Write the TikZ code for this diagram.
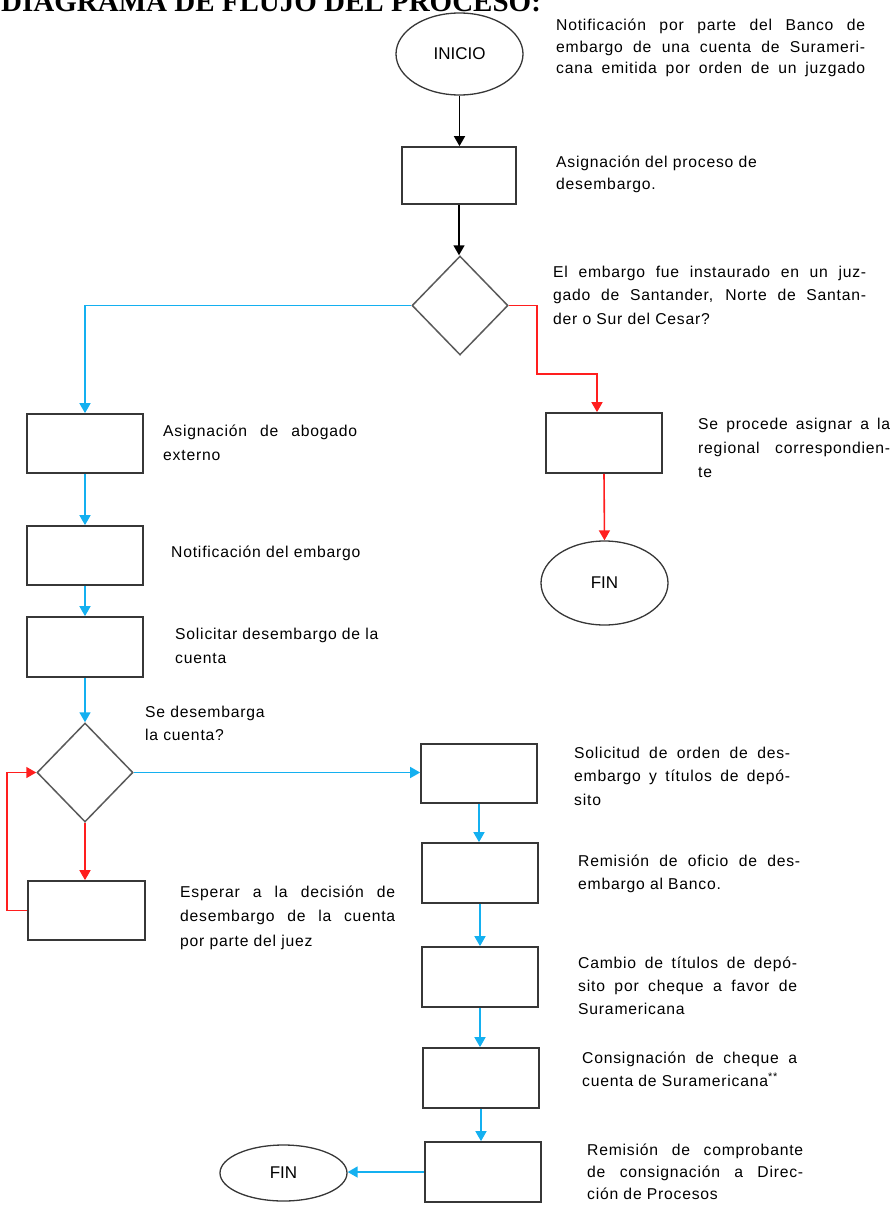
\documentclass[tikz,border=0pt]{standalone}
\usepackage{fontspec}
\setmainfont{Liberation Serif}
\newfontfamily\lbl[LetterSpace=5]{Liberation Sans}
\newfontfamily\shapefont{Liberation Sans}
\usetikzlibrary{shapes.geometric,arrows.meta}
\definecolor{flowblue}{RGB}{20,176,240}
\definecolor{flowred}{RGB}{255,30,30}
\definecolor{edgegray}{RGB}{55,55,55}
\definecolor{diagray}{RGB}{90,90,90}
% one justified line of a description
\newcommand\jl[1]{\makebox[\linewidth][s]{#1}}
% description block: width, line spacing, lines
\newcommand\txtblock[3]{\parbox[t]{#1}{\fontsize{15.7}{#2}\selectfont #3}}

\begin{document}
\begin{tikzpicture}[x=1pt,y=-1pt,
  box/.style={draw=edgegray, line width=1.7pt, rectangle, minimum width=116pt, minimum height=59pt, inner sep=0pt},
  decision/.style={draw=diagray, line width=1.5pt, diamond, minimum width=96pt, minimum height=99pt, inner sep=0pt},
  terminal/.style={draw=edgegray, line width=1.3pt, ellipse, minimum width=127pt, inner sep=0pt, font=\shapefont\fontsize{17}{20}\selectfont},
  note/.style={anchor=base west, inner sep=0pt, font=\lbl},
  arr/.style={line width=1.6pt, -{Triangle[length=10pt,width=11pt]}},
  blackflow/.style={arr, draw=black},
  blueflow/.style={arr, draw=flowblue},
  redflow/.style={arr, draw=flowred}]

\useasboundingbox (0,0) rectangle (893,1207);
\clip (0,0) rectangle (893,1207);

% heading
\node[anchor=base west, inner sep=0pt, font=\fontsize{29}{32}\selectfont\bfseries] (title) at (1,12) {DIAGRAMA DE FLUJO DEL PROCESO:};

% main column
\node[terminal, minimum height=82pt] (inicio) at (459.5,54) {INICIO};
\node[box, minimum width=114pt, minimum height=57pt] (b1) at (459,175.5) {};
\node[decision] (d1) at (460,305.5) {};

% left branch
\node[box] (a1) at (85,443.5) {};
\node[box] (a2) at (85,555.5) {};
\node[box, minimum height=60pt] (a3) at (85,647) {};
\node[decision] (d2) at (85,772.5) {};
\node[box, minimum width=117pt] (w1) at (86.5,910.5) {};

% right branch of the first decision
\node[box, minimum height=60pt] (r1) at (604,443) {};
\node[terminal, minimum height=84pt] (fin1) at (604.5,583) {FIN};

% column after the account is released
\node[box] (s1) at (479,773.5) {};
\node[box, minimum height=60pt] (s2) at (480,873) {};
\node[box, minimum height=60pt] (s3) at (480,977) {};
\node[box, minimum height=60pt] (s4) at (481,1078) {};
\node[box, minimum height=60pt] (s5) at (483,1172) {};
\node[terminal, minimum height=56pt] (fin2) at (283.5,1173) {FIN};

% connectors
\draw[blackflow] (inicio.south) -- (inicio.south |- b1.north);
\draw[blackflow] (b1.south) -- (b1.south |- d1.north);
\draw[blueflow] (d1.west) -| (a1.north);
\coordinate (rk) at (537,374);
\draw[redflow] (d1.east) -| (rk) -| ([xshift=-7pt]r1.north);
\draw[redflow] (r1.south) -- (fin1.north);
\draw[blueflow] (a1.south) -- (a2.north);
\draw[blueflow] (a2.south) -- (a3.north);
\draw[blueflow] (a3.south) -- (d2.north);
\draw[redflow] (d2.south) -- (d2.south |- w1.north);
\draw[redflow] (w1.west) -- ++(-20,0) |- (d2.west);
\draw[blueflow] (d2.east) -- (d2.east -| s1.west);
\draw[blueflow] (s1.south) -- (s1.south |- s2.north);
\draw[blueflow] (s2.south) -- (s2.south |- s3.north);
\draw[blueflow] (s3.south) -- (s3.south |- s4.north);
\draw[blueflow] (s4.south) -- (s4.south |- s5.north);
\draw[blueflow] (s5.west) -- (s5.west -| fin2.east);

% descriptions
\node[note] (t1) at (556,31) {\txtblock{309pt}{21.5pt}{\jl{Notificación por parte del Banco de}\\\jl{embargo de una cuenta de Surameri-}\\\jl{cana emitida por orden de un juzgado}}};
\node[note] (t2) at (556,167) {\txtblock{230pt}{22pt}{Asignación del proceso de\\desembargo.}};
\node[note] (t3) at (553,277) {\txtblock{313pt}{23.5pt}{\jl{El embargo fue instaurado en un juz-}\\\jl{gado de Santander, Norte de Santan-}\\der o Sur del Cesar?}};
\node[note] (t4) at (163,436) {\txtblock{194pt}{24pt}{\jl{Asignación de abogado}\\externo}};
\node[note] (t5) at (698,429) {\txtblock{192pt}{24pt}{\jl{Se procede asignar a la}\\\jl{regional correspondien-}\\te}};
\node[note] (t6) at (171,557) {\txtblock{220pt}{24pt}{Notificación del embargo}};
\node[note] (t7) at (175,639) {\txtblock{220pt}{24pt}{Solicitar desembargo de la\\cuenta}};
\node[note] (t8) at (145,717) {\txtblock{150pt}{23pt}{Se desembarga\\la cuenta?}};
\node[note] (t9) at (574,758) {\txtblock{216pt}{23.5pt}{\jl{Solicitud de orden de des-}\\\jl{embargo y títulos de depó-}\\sito}};
\node[note] (t10) at (578,866) {\txtblock{222pt}{23pt}{\jl{Remisión de oficio de des-}\\embargo al Banco.}};
\node[note] (t11) at (180,897) {\txtblock{215pt}{24.5pt}{\jl{Esperar a la decisión de}\\\jl{desembargo de la cuenta}\\por parte del juez}};
\node[note] (t12) at (578,968) {\txtblock{219pt}{23pt}{\jl{Cambio de títulos de depó-}\\\jl{sito por cheque a favor de}\\Suramericana}};
\node[note] (t13) at (582,1063) {\txtblock{215pt}{23pt}{\jl{Consignación de cheque a}\\cuenta de Suramericana\textsuperscript{**}}};
\node[note] (t14) at (587,1155) {\txtblock{216pt}{22pt}{\jl{Remisión de comprobante}\\\jl{de consignación a Direc-}\\ción de Procesos}};

\end{tikzpicture}
\end{document}
